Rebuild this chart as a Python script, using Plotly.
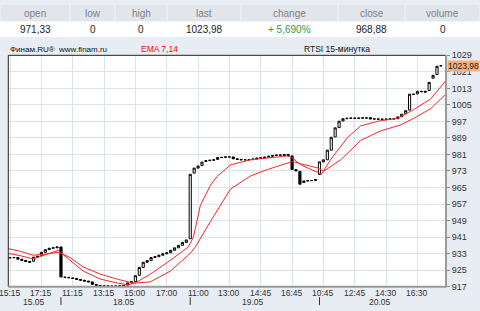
import plotly.graph_objects as go

W, H = 480, 311

# ---------------- data ----------------
opens = [931.0, 931.0, 931.1, 930.3, 929.7, 929.2, 929.3, 931.3, 932.2, 933.6,
         934.9, 935.6, 935.8, 936.2, 921.6, 921.5, 921.2, 921.0, 920.5, 920.1,
         919.7, 919.3, 918.0, 917.6, 917.4, 917.3, 917.3, 917.2, 917.3, 917.4,
         917.7, 918.8, 919.5, 922.5, 926.3, 928.8, 929.6, 931.1, 931.5, 932.2,
         932.9, 933.4, 934.6, 935.8, 937.0, 938.4, 940.2, 972.0, 974.4, 975.6,
         977.6, 978.0, 978.2, 978.6, 979.5, 979.6, 979.8, 979.8, 978.9, 978.6,
         978.4, 978.4, 978.5, 978.8, 979.2, 979.4, 979.7, 980.1, 980.5, 980.7,
         980.5, 981.0, 980.3, 973.7, 972.8, 967.4, 968.2, 968.3, 968.4, 971.33,
         977.4, 978.4, 983.1, 989.5, 994.0, 997.2, 998.3, 998.5, 998.6, 998.5,
         998.6, 998.7, 998.8, 998.2, 998.2, 998.1, 998.0, 998.1, 998.2, 998.3,
         999.3, 1000.8, 1002.5, 1010.2, 1010.3, 1011.6, 1011.6, 1012.0, 1017.9, 1019.7,
         1023.9]
closes = [931.0, 931.1, 930.3, 929.7, 929.2, 928.8, 931.3, 931.7, 933.6, 934.9,
          935.6, 935.8, 936.2, 921.7, 921.5, 921.3, 921.0, 920.5, 920.1, 919.7,
          919.3, 918.1, 917.6, 917.4, 917.3, 917.3, 917.2, 917.3, 917.4, 917.6,
          918.8, 919.4, 922.3, 926.3, 928.8, 929.6, 931.1, 931.5, 932.2, 932.9,
          933.4, 934.6, 935.8, 937.0, 938.4, 939.6, 971.4, 974.4, 975.4, 977.3,
          978.0, 978.2, 978.4, 979.5, 979.6, 979.8, 979.8, 978.9, 978.6, 978.4,
          978.4, 978.5, 978.8, 979.2, 979.4, 979.7, 980.1, 980.5, 980.7, 980.7,
          981.0, 980.4, 973.7, 973.0, 966.6, 968.2, 968.3, 968.4, 968.88, 977.4,
          978.4, 983.1, 989.3, 993.9, 997.1, 998.3, 998.5, 998.6, 998.5, 998.6,
          998.7, 998.7, 998.2, 998.2, 998.1, 998.0, 998.1, 998.2, 998.3, 999.2,
          1000.5, 1002.2, 1010.2, 1010.1, 1011.6, 1011.4, 1011.2, 1015.9, 1019.3, 1023.7,
          1023.98]
bar_idx = list(range(len(opens)))

ema7_idx = [-0.5, 2.6, 5.9, 9.0, 12.3, 13.3, 15.3, 18.7, 23.0, 27.4, 30.2, 32.0,
            35.8, 40.9, 45.5, 46.8, 48.6, 51.2, 52.9, 56.3, 61.4, 65.2, 70.8, 72.1,
            74.2, 78.5, 79.5, 81.8, 86.2, 89.5, 93.9, 99.0, 103.1, 107.4, 111.5]
ema7_val = [933.1, 932.0, 930.4, 932.5, 934.6, 932.9, 929.7, 924.5, 920.7, 918.7, 917.9, 918.9,
            923.0, 929.7, 936.2, 940.9, 956.4, 966.2, 970.4, 976.0, 978.4, 979.2, 980.3, 979.3,
            976.0, 972.3, 971.4, 978.4, 989.3, 994.8, 997.1, 998.5, 1002.8, 1007.9, 1017.3]

ema14_idx = [-0.5, 2.6, 5.9, 9.0, 12.3, 13.3, 15.3, 18.7, 23.0, 27.4, 31.5, 34.5,
             35.8, 40.9, 46.0, 47.3, 51.2, 56.3, 61.4, 65.7, 69.8, 72.1, 74.2, 78.5,
             80.1, 84.4, 87.0, 89.5, 94.6, 99.7, 103.1, 107.4, 111.5]
ema14_val = [935.4, 934.1, 932.2, 932.7, 933.6, 932.9, 931.1, 926.5, 923.1, 920.6, 918.7, 918.9,
             919.3, 924.5, 933.1, 936.2, 948.7, 964.3, 970.6, 973.7, 976.0, 977.6, 976.5, 974.5,
             972.9, 978.4, 983.1, 987.8, 992.4, 995.3, 998.5, 1003.2, 1010.7]

tick_pos = [0, 8, 16, 24, 32, 40, 48, 56, 64, 72, 80, 88, 96, 104]
tick_labels = ["15:15", "17:15", "11:15", "13:15", "15:00", "17:00", "11:00",
               "13:00", "14:45", "16:45", "10:45", "12:45", "14:30", "16:30"]
day_labels = ["15.05", "18.05", "19.05", "20.05"]
day_start = [0, 13, 46, 79]
y_ticks = list(range(917, 1030, 8))
header_labels = ["open", "low", "high", "last", "change", "close", "volume"]
header_values = ["971,33", "0", "0", "1023,98", "+ 5,690%", "968,88", "0"]
last_price = 1023.98

# ---------------- layout helpers ----------------
def px(x):
    return x / W


def py(y):
    return 1 - y / H


PL, PR, PT, PB = 8.3, 446, 52, 291
FONT = "Liberation Sans"

highs = [max(o, c) for o, c in zip(opens, closes)]
lows = [min(o, c) for o, c in zip(opens, closes)]

fig = go.Figure()
fig.add_trace(go.Candlestick(
    x=bar_idx, open=opens, high=highs, low=lows, close=closes,
    increasing=dict(line=dict(color="#000000", width=1), fillcolor="#FFFFFF"),
    decreasing=dict(line=dict(color="#000000", width=1), fillcolor="#000000"),
    whiskerwidth=0, showlegend=False, hoverinfo="skip"))
fig.add_trace(go.Scatter(x=ema14_idx, y=ema14_val, mode="lines",
                         line=dict(color="#F02828", width=1), showlegend=False, hoverinfo="skip"))
fig.add_trace(go.Scatter(x=ema7_idx, y=ema7_val, mode="lines",
                         line=dict(color="#F02828", width=1), showlegend=False, hoverinfo="skip"))

shapes = []
# header cells
seps = [0, 70, 115, 167, 241, 338, 405, 480]
for a, b in zip(seps[:-1], seps[1:]):
    shapes.append(dict(type="rect", xref="paper", yref="paper",
                       x0=px(a + 1), x1=px(b - 1), y0=py(17), y1=py(0),
                       fillcolor="#E2E5EA", line=dict(width=0), layer="below"))
shapes.append(dict(type="rect", xref="paper", yref="paper",
                   x0=0, x1=1, y0=py(33), y1=py(17),
                   fillcolor="#FFFFFF", line=dict(width=0), layer="below"))
# plot area background
shapes.append(dict(type="rect", xref="paper", yref="paper",
                   x0=px(PL), x1=px(PR), y0=py(PB), y1=py(PT),
                   fillcolor="#FFFFFF", line=dict(width=0), layer="below"))
# frame
shapes.append(dict(type="line", xref="paper", yref="paper", x0=px(PL), x1=px(PR),
                   y0=py(PT), y1=py(PT), line=dict(color="#222222", width=1)))
shapes.append(dict(type="line", xref="paper", yref="paper", x0=px(PL), x1=px(PL),
                   y0=py(PT), y1=py(PB), line=dict(color="#222222", width=1)))
shapes.append(dict(type="line", xref="paper", yref="paper", x0=px(PR), x1=px(PR),
                   y0=py(PT), y1=py(PB + 1), line=dict(color="#9A9A9A", width=2)))
shapes.append(dict(type="line", xref="paper", yref="paper", x0=px(PL), x1=px(PR),
                   y0=py(PB), y1=py(PB), line=dict(color="#9A9A9A", width=2)))
# day separators
for s in day_start[1:]:
    shapes.append(dict(type="line", xref="x", yref="paper", x0=s, x1=s,
                       y0=py(302), y1=py(310), line=dict(color="#333333", width=1)))


def ann(x, y, text, size, color, xanchor="center", xref="paper", yref="paper", **kw):
    return dict(x=x, y=y, xref=xref, yref=yref, text=text, showarrow=False,
                xanchor=xanchor, yanchor="middle",
                font=dict(family=FONT, size=size, color=color), **kw)


annotations = []
centers = [(a + b) / 2 for a, b in zip(seps[:-1], seps[1:])]
for c, lab, val in zip(centers, header_labels, header_values):
    annotations.append(ann(px(c), py(8.5), lab, 10, "#7C838B"))
    col = "#2E9B3A" if val.startswith("+") else "#222222"
    annotations.append(ann(px(c), py(25.5), val, 10, col))

annotations.append(ann(px(8), py(45.5), "Финам.RU®  www.finam.ru", 8, "#111111", xanchor="left"))
annotations.append(ann(px(159), py(45.5), "EMA 7,14", 8.5, "#FF0000"))
annotations.append(ann(px(337), py(45.5), "RTSI 15-минутка", 8.5, "#111111"))
# last price tag
annotations.append(ann(1, last_price, "1023,98", 8.5, "#222222", xanchor="right",
                       yref="y", bgcolor="#F5B07C", borderpad=0))
# time labels along the x axis
for pos, lab in zip(tick_pos, tick_labels):
    annotations.append(ann(pos, py(298), lab, 8.5, "#333333", xref="x"))
# date labels
ends = [s - 1 for s in day_start[1:]] + [bar_idx[-1]]
for lab, s, e in zip(day_labels, day_start, ends):
    annotations.append(ann((s + e) / 2, py(306.5), lab, 8.5, "#333333", xref="x"))

fig.update_layout(
    width=W, height=H, margin=dict(l=0, r=0, t=0, b=0),
    paper_bgcolor="#E7EDF3", plot_bgcolor="rgba(0,0,0,0)",
    boxgap=0.45, boxgroupgap=0,
    shapes=shapes, annotations=annotations,
    xaxis=dict(domain=[px(PL), px(PR)], range=[-0.45, 111.3],
               tickvals=tick_pos, showticklabels=False, showgrid=True,
               gridcolor="#DCE3EC", gridwidth=1, zeroline=False, showline=False,
               ticks="", rangeslider=dict(visible=False), fixedrange=True),
    yaxis=dict(domain=[py(PB), py(PT)], range=[917, 1029], side="right",
               tickvals=y_ticks, ticktext=[str(v) for v in y_ticks], showgrid=True,
               gridcolor="#DCE3EC", gridwidth=1, zeroline=False, showline=False,
               ticks="outside", ticklen=3, tickcolor="#888888",
               tickfont=dict(family=FONT, size=9, color="#333333"), fixedrange=True),
)

fig.write_html("out.html")
